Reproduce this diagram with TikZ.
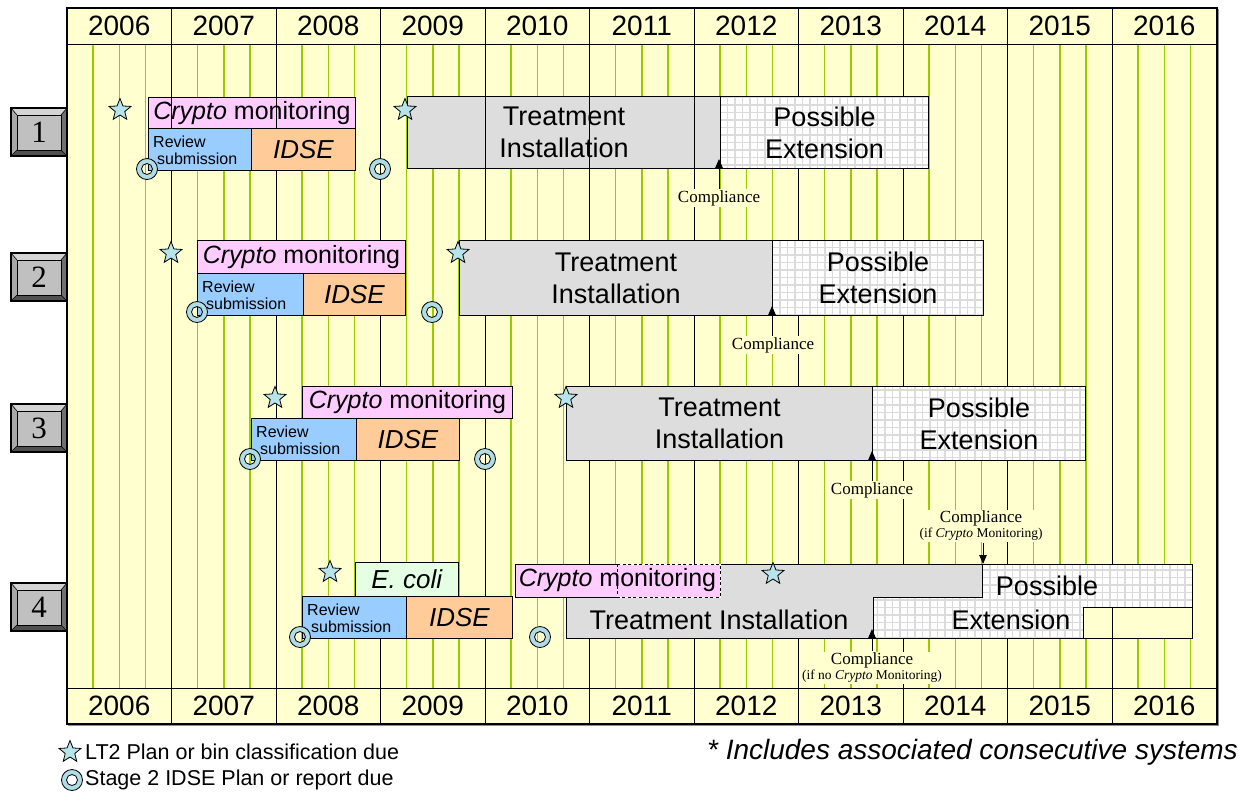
\documentclass[tikz,border=0pt]{standalone}
\usepackage{fontspec}
\setmainfont{Liberation Sans}
\newfontfamily\serifx{Liberation Serif}
\usetikzlibrary{shapes.geometric,arrows.meta}
\definecolor{bgy}{RGB}{255,255,208}
\definecolor{grn}{RGB}{153,204,0}
\definecolor{pinkc}{RGB}{255,204,255}
\definecolor{bluec}{RGB}{153,204,255}
\definecolor{orangec}{RGB}{255,204,153}
\definecolor{grayc}{RGB}{221,221,221}
\definecolor{ecolic}{RGB}{229,255,229}
\definecolor{starc}{RGB}{183,228,234}
\definecolor{ringc}{RGB}{176,220,230}
\definecolor{faceg}{RGB}{192,192,192}
\definecolor{bevT}{RGB}{212,212,212}
\definecolor{bevL}{RGB}{168,168,168}
\definecolor{bevR}{RGB}{112,112,112}
\definecolor{bevB}{RGB}{80,80,80}
\newcommand\fs[2]{\fontsize{#1}{#2}\selectfont}
\newcommand\extfill[1]{\begin{scope}\clip #1; \fill[white] (60,0) rectangle (1230,796);
  \draw[black!14, line width=1.4pt, step=7.5pt] (60,40) grid (1230,700);\end{scope}}
\newcommand\ringmark[2]{\coordinate (#1) at #2;
  \path[draw=black, line width=0.8pt, fill=ringc, even odd rule] (#1) circle (10.5pt) (#1) circle (5.5pt);}
\newcommand\rowlab[3]{%
 \pgfmathsetmacro\rbA{#2-24}\pgfmathsetmacro\rbB{#2+24}\pgfmathsetmacro\rbC{#2-17}\pgfmathsetmacro\rbD{#2+18}%
 \fill[bevT] (11,\rbA) -- (67,\rbA) -- (61,\rbC) -- (17,\rbC) -- cycle;
 \fill[bevL] (11,\rbA) -- (17,\rbC) -- (17,\rbD) -- (11,\rbB) -- cycle;
 \fill[bevR] (67,\rbA) -- (67,\rbB) -- (61,\rbD) -- (61,\rbC) -- cycle;
 \fill[bevB] (11,\rbB) -- (67,\rbB) -- (61,\rbD) -- (17,\rbD) -- cycle;
 \draw[line width=0.6pt] (11,\rbA)--(17,\rbC) (67,\rbA)--(61,\rbC) (67,\rbB)--(61,\rbD) (11,\rbB)--(17,\rbD);
 \node[draw, line width=0.8pt, fill=faceg, minimum width=44pt, minimum height=35pt, inner sep=0pt, font=\serifx\fs{31}{31}] (#1) at (39,{#2+0.5}) {#3};
 \draw[line width=1.3pt] (11,\rbA) rectangle (67,\rbB);}
\tikzset{
  bx/.style={draw=black, line width=1pt, inner sep=0pt, anchor=north west},
  yr/.style={font=\fs{28}{28}, inner sep=0pt},
  fcm/.style={font=\fs{25}{25}},
  fid/.style={font=\fs{26}{26}},
  ftr/.style={font=\fs{27}{32}, align=center},
  rs/.style={font=\fs{16}{17}, align=left, anchor=west, inner sep=0pt},
  lt2/.style={star, star points=5, star point ratio=2.3, minimum size=23pt, inner sep=0pt, draw=black, line width=0.8pt, fill=starc},
  cmp/.style={fill=bgy, inner sep=1.5pt, font=\serifx\fs{17}{17}, align=center},
  tipT/.style={-{Triangle[length=9pt,width=7.5pt]}, line width=0.9pt},
  yl/.style={line width=0.9pt, black},
}
\begin{document}
\begin{tikzpicture}[x=1pt,y=-1pt]
\useasboundingbox (0,0) rectangle (1246,796);
\fill[white] (0,0) rectangle (1246,796);
\fill[bgy] (67,8) rectangle (1217,724);
\foreach \k in {0,...,10}{\foreach \j in {1,2,3}{\draw[grn,line width=1.5pt] ({67+104.5*\k+26.125*\j},44) -- ({67+104.5*\k+26.125*\j},688);}}
\foreach \k in {1,...,10}{\draw[yl] ({67+104.5*\k},8) -- ({67+104.5*\k},724);}
\draw[line width=1pt] (67,44) -- (1217,44) (67,688) -- (1217,688);
\foreach \k in {0,...,10}{\pgfmathtruncatemacro\yy{2006+\k}
 \node[yr] (yt\k) at ({119.25+104.5*\k},26) {\yy};
 \node[yr] (yb\k) at ({119.25+104.5*\k},706) {\yy};}
\draw[black!45, line width=1pt] (68,725.5) -- (1218.5,725.5) -- (1218.5,9);
\draw[line width=1.5pt] (67,8) rectangle (1217,724);

% row labels
\rowlab{L1}{132}{1}
\rowlab{L2}{277}{2}
\rowlab{L3}{428}{3}
\rowlab{L4}{607}{4}

% ---------- row 1
\node[bx, fill=pinkc, minimum width=207pt, minimum height=31pt, fcm] (c1) at (148,97) {\textit{Crypto} monitoring};
\draw[yl] (171.5,97) -- (171.5,128) (276,97) -- (276,128);
\node[bx, fill=bluec, minimum width=103pt, minimum height=42pt] (r1) at (148,128) {};
\node[rs] (rt1) at (153,150) {Review\\\hspace*{4pt}submission};
\node[bx, fill=orangec, minimum width=104pt, minimum height=42pt, fid] (i1) at (251,128) {\textit{IDSE}};
\node[bx, fill=grayc, minimum width=313pt, minimum height=72pt, ftr] (t1) at (407,96) {Treatment\\Installation};
\draw[yl] (485,96) -- (485,168) (589.5,96) -- (589.5,168) (694,96) -- (694,168);
\extfill{(720,96) rectangle (928,168)}
\node[bx, minimum width=208pt, minimum height=72pt, ftr] (e1) at (720,96) {Possible\\Extension};
\node[lt2] (s1a) at (120,110) {};
\node[lt2] (s1b) at (405,110) {};
\ringmark{d1a}{(147,169)}
\ringmark{d1b}{(380,169)}
\node[cmp] (k1) at (719,198) {Compliance};
\coordinate (k1t) at (719,159);
\draw[tipT] (k1.north) -- (k1t);

% ---------- row 2
\node[bx, fill=pinkc, minimum width=208pt, minimum height=33pt, fcm] (c2) at (197,240) {\textit{Crypto} monitoring};
\node[bx, fill=bluec, minimum width=106pt, minimum height=42pt] (r2) at (197,273) {};
\node[rs] (rt2) at (202,295) {Review\\\hspace*{4pt}submission};
\node[bx, fill=orangec, minimum width=102pt, minimum height=42pt, fid] (i2) at (303,273) {\textit{IDSE}};
\node[bx, fill=grayc, minimum width=313pt, minimum height=75pt, ftr] (t2) at (459,240) {Treatment\\Installation};
\extfill{(772,240) rectangle (983,315)}
\node[bx, minimum width=211pt, minimum height=75pt, ftr] (e2) at (772,240) {Possible\\Extension};
\node[lt2] (s2a) at (171,253) {};
\node[lt2] (s2b) at (458,253) {};
\ringmark{d2a}{(197,312)}
\ringmark{d2b}{(432,312)}
\node[cmp] (k2) at (773,345) {Compliance};
\coordinate (k2t) at (772,306);
\draw[tipT] (k2.north -| k2t) -- (k2t);

% ---------- row 3
\node[bx, fill=pinkc, minimum width=210pt, minimum height=32pt, fcm] (c3) at (302,386) {\textit{Crypto} monitoring};
\node[bx, fill=bluec, minimum width=105pt, minimum height=42pt] (r3) at (251,418) {};
\node[rs] (rt3) at (256,440) {Review\\\hspace*{4pt}submission};
\node[bx, fill=orangec, minimum width=103pt, minimum height=42pt, fid] (i3) at (356,418) {\textit{IDSE}};
\node[bx, fill=grayc, minimum width=306pt, minimum height=74pt, ftr] (t3) at (566,386) {Treatment\\Installation};
\extfill{(872,386) rectangle (1085,460)}
\node[bx, minimum width=213pt, minimum height=74pt, ftr] (e3) at (872,386) {Possible\\Extension};
\node[lt2] (s3a) at (275,398) {};
\node[lt2] (s3b) at (566,398) {};
\ringmark{d3a}{(250,459)}
\ringmark{d3b}{(485,459)}
\node[cmp] (k3) at (872,490) {Compliance};
\coordinate (k3t) at (872,451);
\draw[tipT] (k3.north) -- (k3t);

% ---------- row 4
\node[bx, fill=ecolic, minimum width=103pt, minimum height=34pt, fid] (ec) at (355,562) {\textit{E. coli}};
\node[bx, fill=bluec, minimum width=104pt, minimum height=42pt] (r4) at (302,596) {};
\node[rs] (rt4) at (307,618) {Review\\\hspace*{4pt}submission};
\node[bx, fill=orangec, minimum width=106pt, minimum height=42pt, fid] (i4) at (406,596) {\textit{IDSE}};
\fill[grayc] (566,564) -- (982,564) -- (982,597) -- (873,597) -- (873,638) -- (566,638) -- cycle;
\extfill{(873,597) -- (982,597) -- (982,564) -- (1192,564) -- (1192,638) -- (873,638) -- cycle}
\draw[line width=1pt] (566,597) -- (566,638) -- (873,638) -- (873,597) -- (982,597) -- (982,564) -- (720,564);
\draw[line width=1pt] (982,564) -- (1192,564) -- (1192,638) -- (873,638);
\draw[line width=1pt, fill=bgy] (1083,607) rectangle (1192,638);
\draw[yl] (1112,607) -- (1112,638);
\fill[pinkc] (515,564) rectangle (720,597);
\draw[line width=1pt] (617,564) -- (515,564) -- (515,597) -- (617,597);
\draw[line width=1pt, white] (617,564) -- (720,564) -- (720,597) -- (617,597) -- cycle;
\draw[line width=1pt, dash pattern=on 3pt off 2.5pt] (617,564) -- (720,564) -- (720,597) -- (617,597) -- cycle;
\node[fcm, inner sep=0pt] (c4) at (617.5,580.5) {\textit{Crypto} monitoring};
\node[font=\fs{27}{27}, inner sep=0pt] (t4) at (719,620) {Treatment Installation};
\node[font=\fs{27}{27}, inner sep=0pt] (e4a) at (1047,586) {Possible};
\node[font=\fs{27}{27}, inner sep=0pt] (e4b) at (1011,620) {Extension};
\node[lt2] (s4a) at (330,572) {};
\node[lt2] (s4b) at (773,574) {};
\ringmark{d4a}{(300,637)}
\ringmark{d4b}{(540,637)}
\node[cmp] (k4) at (872,668) {Compliance\\[-2pt]{\fs{13.5}{14}(if no \textit{Crypto} Monitoring)}};
\coordinate (k4t) at (872,629);
\draw[tipT] (k4.north -| k4t) -- (k4t);
\node[cmp] (k5) at (981,526) {Compliance\\[-2pt]{\fs{13.5}{14}(if \textit{Crypto} Monitoring)}};
\coordinate (k5t) at (983,564);
\draw[tipT] (k5.south -| k5t) -- (k5t);

% ---------- legend
\node[lt2] (ls) at (70,752) {};
\node[font=\fs{21.5}{21.5}, anchor=west, inner sep=0pt] (lst) at (85,752) {LT2 Plan or bin classification due};
\ringmark{lr}{(72,780)}
\node[font=\fs{21.5}{21.5}, anchor=west, inner sep=0pt] (lrt) at (85,780) {Stage 2 IDSE Plan or report due};
\node[font=\fs{28}{28}\itshape, anchor=east, inner sep=0pt] (inc) at (1238,752) {* Includes associated consecutive systems};
\end{tikzpicture}
\end{document}
